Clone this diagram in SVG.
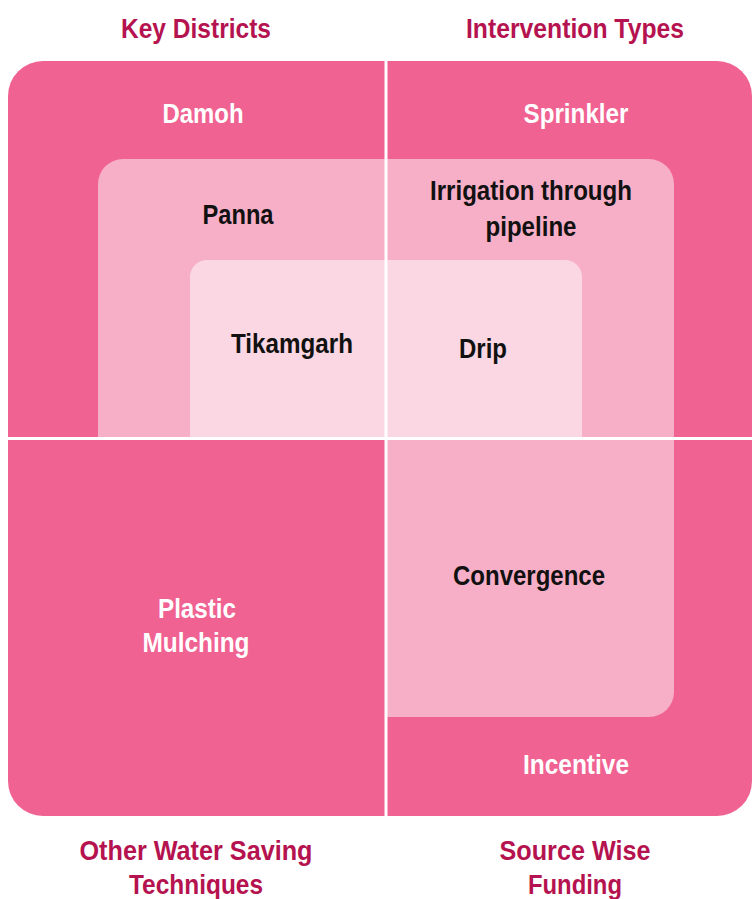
<svg xmlns="http://www.w3.org/2000/svg" width="752" height="899" viewBox="0 0 752 899">
<style>
text{font-family:"Liberation Sans",Arial,sans-serif;font-weight:bold;font-size:28px;text-anchor:middle}
.title{fill:#B5134F}
.w{fill:#FFFFFF}
.b{fill:#111111}
.dark{fill:#F06292}
.mid{fill:#F7AFC7}
.light{fill:#FAD7E2}
.sep{stroke:#FFFFFF;stroke-width:3}
</style>
<rect width="752" height="899" fill="#FFFFFF"/>
<g id="background">
<rect class="dark" x="8" y="61" width="744" height="755" rx="35" ry="35"/>
<path class="mid" d="M98 437 L98 184 A25 25 0 0 1 123 159 L649 159 A25 25 0 0 1 674 184 L674 692 A25 25 0 0 1 649 717 L386 717 L386 437 Z"/>
<path class="light" d="M190 437 L190 277 A17 17 0 0 1 207 260 L565 260 A17 17 0 0 1 582 277 L582 437 Z"/>
</g>
<g id="connectors">
<line class="sep" x1="386" y1="61" x2="386" y2="816"/>
<line class="sep" x1="8" y1="438.5" x2="752" y2="438.5"/>
</g>
<g id="title-key-districts"><text class="title" x="196" y="38" textLength="150" lengthAdjust="spacingAndGlyphs">Key Districts</text></g>
<g id="title-intervention-types"><text class="title" x="575" y="38" textLength="218" lengthAdjust="spacingAndGlyphs">Intervention Types</text></g>
<g id="title-other"><text class="title" x="196" y="860" textLength="233" lengthAdjust="spacingAndGlyphs">Other Water Saving</text><text class="title" x="196" y="894" textLength="134" lengthAdjust="spacingAndGlyphs">Techniques</text></g>
<g id="title-source"><text class="title" x="575" y="860" textLength="151" lengthAdjust="spacingAndGlyphs">Source Wise</text><text class="title" x="575" y="894" textLength="94" lengthAdjust="spacingAndGlyphs">Funding</text></g>
<g id="node-damoh"><text class="w" x="203" y="123" textLength="81" lengthAdjust="spacingAndGlyphs">Damoh</text></g>
<g id="node-sprinkler"><text class="w" x="576" y="123" textLength="105" lengthAdjust="spacingAndGlyphs">Sprinkler</text></g>
<g id="node-panna"><text class="b" x="238" y="224" textLength="71" lengthAdjust="spacingAndGlyphs">Panna</text></g>
<g id="node-irrigation"><text class="b" x="531" y="200" textLength="202" lengthAdjust="spacingAndGlyphs">Irrigation through</text><text class="b" x="531" y="236" textLength="91" lengthAdjust="spacingAndGlyphs">pipeline</text></g>
<g id="node-tikamgarh"><text class="b" x="292" y="353" textLength="122" lengthAdjust="spacingAndGlyphs">Tikamgarh</text></g>
<g id="node-drip"><text class="b" x="483" y="358" textLength="48" lengthAdjust="spacingAndGlyphs">Drip</text></g>
<g id="node-convergence"><text class="b" x="529" y="585" textLength="152" lengthAdjust="spacingAndGlyphs">Convergence</text></g>
<g id="node-plastic"><text class="w" x="197" y="618" textLength="78" lengthAdjust="spacingAndGlyphs">Plastic</text><text class="w" x="196" y="652" textLength="107" lengthAdjust="spacingAndGlyphs">Mulching</text></g>
<g id="node-incentive"><text class="w" x="576" y="774" textLength="106" lengthAdjust="spacingAndGlyphs">Incentive</text></g>
</svg>
